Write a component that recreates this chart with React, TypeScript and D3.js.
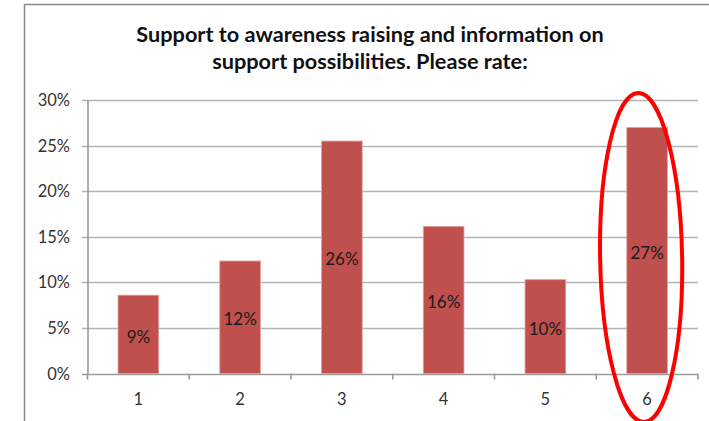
import React from 'react';
import { scaleBand, scaleLinear } from 'd3';

const categories = ['1', '2', '3', '4', '5', '6'];
const shares = [0.086, 0.1235, 0.255, 0.1615, 0.103, 0.27];
const shareLabels = ['9%', '12%', '26%', '16%', '10%', '27%'];
const yTicks = [0, 0.05, 0.1, 0.15, 0.2, 0.25, 0.3];
const titleLines = ['Support to awareness raising and information on', 'support possibilities. Please rate:'];
const highlighted = '6';

const width = 709;
const height = 421;
const font = 'Lato, "Open Sans", sans-serif';

export default function App() {
  const x = scaleBand<string>()
    .domain(categories)
    .range([87.5, 698])
    .paddingInner(0.6)
    .paddingOuter(0.3);
  const y = scaleLinear().domain([0, 0.3]).range([373.6, 100]);
  const step = x.step();
  const left = x.range()[0];

  // red hand-drawn style ring round the highlighted bar
  const cx = (x(highlighted) || 0) + x.bandwidth() / 2 - 6;
  const cy = (y(0.3) + height) / 2 - 3;
  const ry = (height - y(0.3)) / 2 + 4;

  return (
    <svg width={width} height={height} style={{ position: 'absolute', left: 0, top: 0, background: '#fff' }}>
      {/* frame */}
      <path d={`M24.5,${height} V4.5 H${width}`} fill="none" stroke="#8a8a8a" strokeWidth={1.5} />

      {titleLines.map((t, i) => (
        <text key={i} x={370} y={42 + i * 26.5} textAnchor="middle" fontFamily={font}
          fontWeight="bold" fontSize={21.7} fill="#111">{t}</text>
      ))}

      {/* grid + y axis ticks */}
      {yTicks.map(v => (
        <g key={v}>
          <line x1={82} x2={698} y1={Math.round(y(v)) + 0.5} y2={Math.round(y(v)) + 0.5}
            stroke={v === 0 ? '#9a9a9a' : '#b4b4b4'} strokeWidth={1.6} />
          <text x={70} y={y(v)} dy="0.36em" textAnchor="end" fontFamily={font}
            fontSize={16.5} fill="#333">{`${Math.round(v * 100)}%`}</text>
        </g>
      ))}
      <line x1={88} x2={88} y1={y(0.3)} y2={y(0)} stroke="#9a9a9a" strokeWidth={1.6} />

      {/* x axis ticks */}
      {categories.concat(['']).map((c, i) => (
        <line key={i} x1={left + i * step} x2={left + i * step} y1={y(0)} y2={y(0) + 6}
          stroke="#9a9a9a" strokeWidth={1.6} />
      ))}
      {categories.map(c => (
        <text key={c} x={(x(c) || 0) + x.bandwidth() / 2} y={405} textAnchor="middle"
          fontFamily={font} fontSize={16.5} fill="#333">{c}</text>
      ))}

      {/* bars */}
      {categories.map((c, i) => (
        <g key={c}>
          <rect x={x(c)} y={y(shares[i])} width={x.bandwidth()} height={y(0) - y(shares[i])}
            fill="#c0504d" stroke="#e3a3a1" strokeWidth={0.8} />
          <text x={(x(c) || 0) + x.bandwidth() / 2} y={(y(shares[i]) + y(0)) / 2 + 2} dy="0.36em"
            textAnchor="middle" fontFamily={font} fontSize={17} fill="#1a1a1a">{shareLabels[i]}</text>
        </g>
      ))}

      <ellipse cx={cx} cy={cy} rx={41} ry={ry} fill="none" stroke="#ff0000" strokeWidth={4}
        transform={`rotate(-1 ${cx} ${cy})`} />
    </svg>
  );
}
